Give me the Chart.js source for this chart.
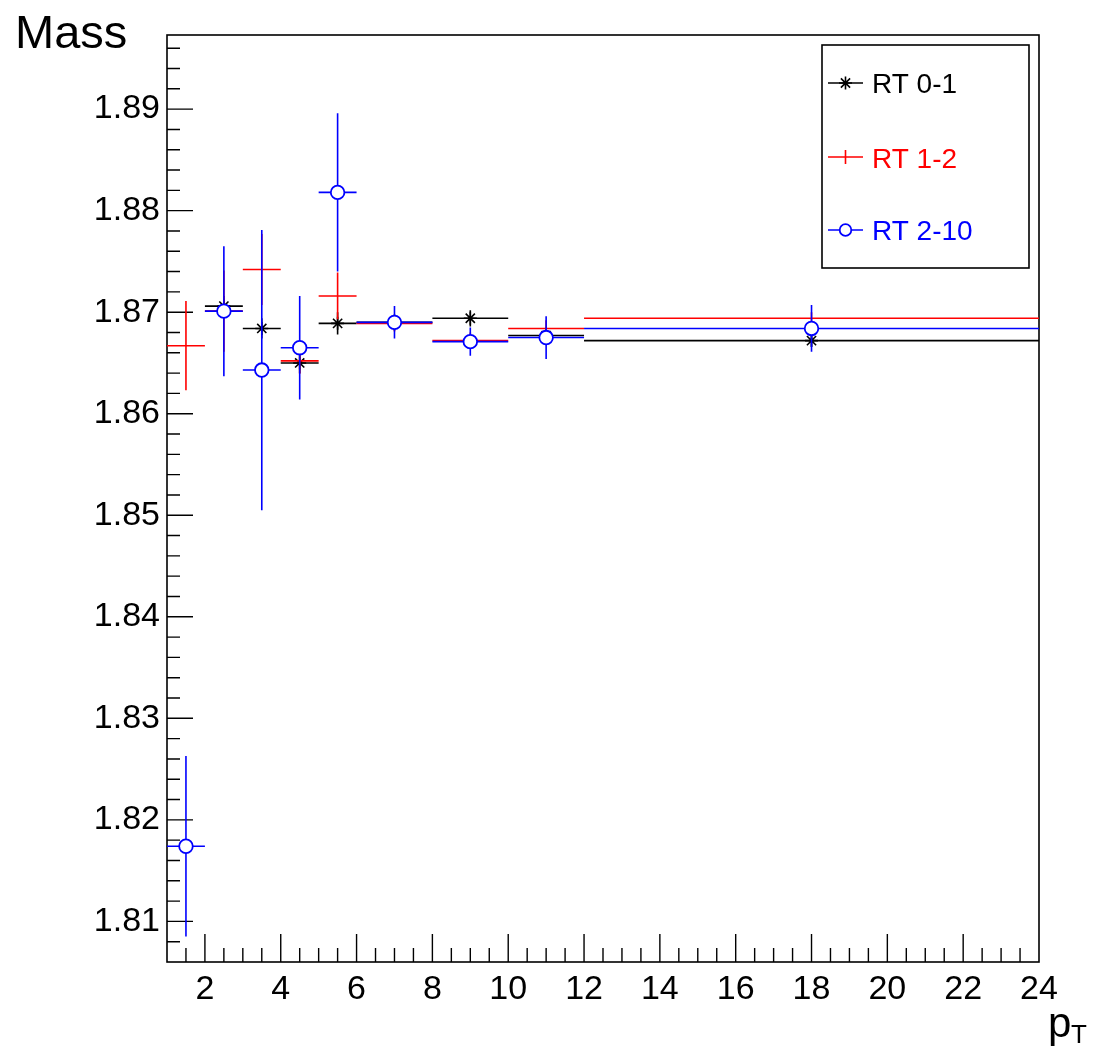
<!DOCTYPE html>
<html><head><meta charset="utf-8">
<script src="https://cdn.jsdelivr.net/npm/chart.js@4"></script>
<style>html,body{margin:0;padding:0;background:#fff}#wrap{position:relative;width:1094px;height:1051px}</style>
</head><body><div id="wrap"><canvas id="c" width="1094" height="1051"></canvas></div>
<script>
// ---- data ----
const binLow    = [1, 2, 3, 4, 5, 6, 8, 10, 12];
const binHigh   = [2, 3, 4, 5, 6, 8, 10, 12, 24];
const binCenter = [1.5, 2.5, 3.5, 4.5, 5.5, 7, 9, 11, 18];
const seriesNames = ['RT 0-1', 'RT 1-2', 'RT 2-10'];
const massRT01  = [null, 1.8706, 1.8684, 1.8650, 1.8689, 1.8690, 1.8694, 1.8677, 1.8672];
const errRT01   = [null, 0.0010, 0.0010, 0.0010, 0.0011, 0.0008, 0.0008, 0.0008, 0.0006];
const massRT12  = [1.8667, 1.8701, 1.8742, 1.8652, 1.8716, 1.8689, 1.8672, 1.8684, 1.8694];
const errRT12   = [0.0044, 0.0040, 0.0035, 0.0013, 0.0023, 0.0008, 0.0008, 0.0008, 0.0006];
const massRT210 = [1.8174, 1.8701, 1.8643, 1.8665, 1.8818, 1.8690, 1.8671, 1.8675, 1.8684];
const errRT210  = [0.0089, 0.0064, 0.0138, 0.0051, 0.0078, 0.0016, 0.0014, 0.0021, 0.0023];
const yTickValues = [1.81, 1.82, 1.83, 1.84, 1.85, 1.86, 1.87, 1.88, 1.89];
const xTickValues = [2, 4, 6, 8, 10, 12, 14, 16, 18, 20, 22, 24];
const yTitle = 'Mass';
const xTitle = 'p';
const xTitleSub = 'T';

const FONT = '"Liberation Sans", Arial, Helvetica, sans-serif';

function pts(mass) {
  const out = [];
  for (let i = 0; i < binCenter.length; i++) {
    if (mass[i] !== null) out.push({x: binCenter[i], y: mass[i]});
  }
  return out;
}

const errorBars = {
  id: 'errorBars',
  beforeDatasetDraw(chart, args) {
    const ds = chart.data.datasets[args.index];
    const xs = chart.scales.x, ys = chart.scales.y;
    const ctx = chart.ctx;
    ctx.save();
    ctx.strokeStyle = ds.borderColor;
    ctx.lineWidth = 1.6;
    for (let i = 0; i < binCenter.length; i++) {
      const m = ds.mass[i];
      if (m === null) continue;
      const e = ds.err[i];
      const py = ys.getPixelForValue(m);
      ctx.beginPath();
      ctx.moveTo(xs.getPixelForValue(binLow[i]), py);
      ctx.lineTo(xs.getPixelForValue(binHigh[i]), py);
      const px = xs.getPixelForValue(binCenter[i]);
      ctx.moveTo(px, ys.getPixelForValue(m + e));
      ctx.lineTo(px, ys.getPixelForValue(m - e));
      ctx.stroke();
    }
    ctx.restore();
  }
};

const frameAndTicks = {
  id: 'frameAndTicks',
  beforeDatasetsDraw(chart) {
    const {ctx, chartArea: a, scales: {x, y}} = chart;
    ctx.save();
    ctx.strokeStyle = '#000';
    ctx.lineWidth = 1.6;
    ctx.strokeRect(a.left, a.top, a.right - a.left, a.bottom - a.top);
    ctx.lineWidth = 1.4;
    ctx.beginPath();
    for (let k = 0; ; k++) {
      const v = 1.806 + k * 0.002;
      if (v > y.max + 1e-9) break;
      const p = y.getPixelForValue(v);
      if (p < a.top + 1 || p > a.bottom - 1) continue;
      const major = yTickValues.some(t => Math.abs(t - v) < 1e-6);
      ctx.moveTo(a.left, p); ctx.lineTo(a.left + (major ? 26 : 13), p);
    }
    for (let v = 1.5; v < 24; v += 0.5) {
      const p = x.getPixelForValue(v);
      const major = xTickValues.includes(v);
      ctx.moveTo(p, a.bottom); ctx.lineTo(p, a.bottom - (major ? 28 : 14));
    }
    ctx.stroke();
    ctx.restore();
  },
  afterDraw(chart) {
    const ctx = chart.ctx;
    ctx.save();
    ctx.fillStyle = '#000';
    ctx.textBaseline = 'alphabetic';
    ctx.textAlign = 'left';
    ctx.font = '47px ' + FONT;
    ctx.fillText(yTitle, 15, 48);
    ctx.font = '42px ' + FONT;
    ctx.fillText(xTitle, 1048, 1037);
    ctx.font = '26px ' + FONT;
    ctx.fillText(xTitleSub, 1071, 1043);
    ctx.strokeStyle = '#000';
    ctx.lineWidth = 1.6;
    ctx.strokeRect(822, 45, 207, 223);
    const rows = [{y: 83, base: 93}, {y: 157, base: 168}, {y: 230, base: 240}];
    chart.data.datasets.forEach((ds, i) => {
      const r = rows[i];
      ctx.strokeStyle = ds.borderColor;
      ctx.lineWidth = 1.6;
      ctx.beginPath();
      ctx.moveTo(828, r.y); ctx.lineTo(863, r.y);
      if (ds.legendTick) { ctx.moveTo(845.5, r.y - 7); ctx.lineTo(845.5, r.y + 7); }
      ctx.stroke();
      if (ds.pointRadius > 0) {
        ctx.fillStyle = ds.pointBackgroundColor;
        ctx.strokeStyle = ds.borderColor;
        ctx.lineWidth = ds.pointBorderWidth;
        Chart.helpers.drawPoint(ctx, {
          pointStyle: ds.pointStyle, radius: ds.legendRadius, rotation: 0,
          borderWidth: ds.pointBorderWidth
        }, 845.5, r.y);
      }
      ctx.fillStyle = ds.borderColor;
      ctx.font = '28px ' + FONT;
      ctx.fillText(ds.label, 872, r.base);
    });
    ctx.restore();
  }
};

new Chart(document.getElementById('c'), {
  type: 'scatter',
  data: {
    datasets: [
      {label: seriesNames[0], data: pts(massRT01), mass: massRT01, err: errRT01,
       borderColor: '#000000', backgroundColor: '#000000', pointBackgroundColor: '#000000',
       pointStyle: 'star', pointRadius: 6.5, pointBorderWidth: 1.6, legendRadius: 6.5, order: 3},
      {label: seriesNames[1], data: pts(massRT12), mass: massRT12, err: errRT12,
       borderColor: '#ff0000', backgroundColor: '#ff0000', pointBackgroundColor: '#ff0000',
       pointStyle: 'cross', pointRadius: 0, pointBorderWidth: 1.5, legendTick: true, order: 2},
      {label: seriesNames[2], data: pts(massRT210), mass: massRT210, err: errRT210,
       borderColor: '#0000ff', backgroundColor: '#ffffff', pointBackgroundColor: '#ffffff',
       pointStyle: 'circle', pointRadius: 6.8, pointBorderWidth: 1.8, legendRadius: 5.8, order: 1}
    ]
  },
  options: {
    responsive: false,
    animation: false,
    devicePixelRatio: 1,
    layout: {padding: {top: 35, right: 55, left: 0, bottom: 0}},
    plugins: {legend: {display: false}, tooltip: {enabled: false}},
    scales: {
      x: {
        type: 'linear', min: 1, max: 24,
        afterBuildTicks: s => { s.ticks = xTickValues.map(v => ({value: v})); },
        afterFit: s => { s.height = 89; },
        grid: {display: false, drawTicks: false}, border: {display: false},
        ticks: {padding: 7, color: '#000', autoSkip: false, maxRotation: 0,
                font: {family: FONT, size: 34}, callback: v => String(v)}
      },
      y: {
        type: 'linear', min: 1.806, max: 1.8973,
        afterBuildTicks: s => { s.ticks = yTickValues.map(v => ({value: v})); },
        afterFit: s => { s.width = 167; },
        grid: {display: false, drawTicks: false}, border: {display: false},
        ticks: {padding: 7, color: '#000', font: {family: FONT, size: 34},
                callback: v => v.toFixed(2)}
      }
    }
  },
  plugins: [frameAndTicks, errorBars]
});
</script></body></html>
